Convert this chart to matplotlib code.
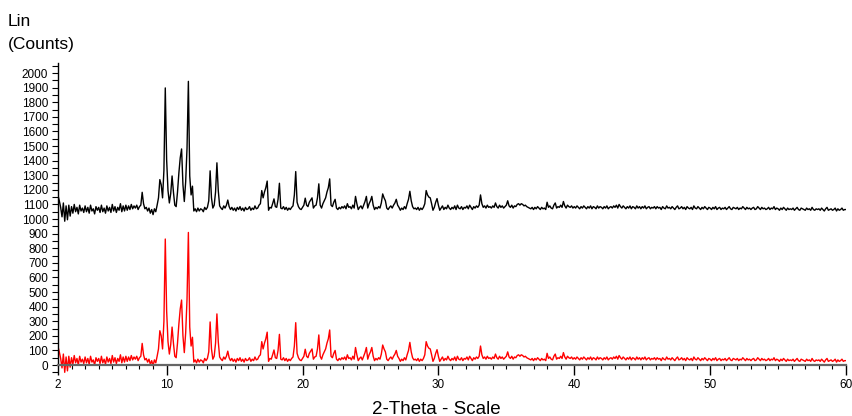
import numpy as np
import matplotlib
matplotlib.use("Agg")
from matplotlib import pyplot as plt
from matplotlib.ticker import MultipleLocator, FixedLocator

plt.rcParams['font.family'] = ['Liberation Sans', 'DejaVu Sans']

# scan: 2-Theta from 2 to 60 deg, 0.1 deg step
start_angle = 2.0
step_size = 0.1

# lower trace (red), counts, one row per degree
red_counts = [
    128, 90, 45, -20, 75, -50, 55, -40, 60, -15,      # 2
    50, 5, 65, 15, 45, 0, 60, 20, 40, 10,             # 3
    55, 15, 45, 5, 60, 20, 35, 0, 50, 25,             # 4
    45, 10, 60, 15, 40, 5, 55, 20, 45, 10,            # 5
    65, 20, 50, 10, 45, 25, 70, 15, 55, 20,           # 6
    60, 25, 55, 30, 65, 35, 55, 40, 60, 30,           # 7
    50, 60, 148, 70, 35, 45, 20, 40, 5, 30,           # 8
    -5, 35, 15, 60, 110, 235, 200, 110, 300, 863,     # 9
    370, 160, 75, 140, 260, 150, 60, 50, 150, 280,    # 10
    384, 445, 200, 85, 220, 450, 908, 260, 130, 190,  # 11
    20, 35, 15, 40, 20, 35, 30, 15, 45, 30,           # 12
    45, 90, 295, 110, 40, 60, 150, 350, 160, 55,      # 13
    40, 30, 55, 40, 60, 95, 50, 30, 45, 25,           # 14
    40, 20, 45, 30, 50, 25, 40, 20, 45, 30,           # 15
    35, 50, 25, 40, 30, 55, 35, 40, 60, 70,           # 16
    160, 110, 150, 180, 225, 25, 45, 40, 70, 103,     # 17
    50, 45, 100, 210, 40, 35, 50, 30, 45, 25,         # 18
    40, 30, 45, 55, 130, 290, 80, 50, 35, 30,         # 19
    45, 60, 108, 60, 50, 80, 95, 110, 40, 55,         # 20
    60, 110, 206, 60, 40, 70, 90, 110, 150, 180,      # 21
    240, 60, 50, 80, 100, 40, 30, 45, 35, 50,         # 22
    40, 55, 35, 70, 45, 50, 35, 60, 40, 120,          # 23
    70, 30, 45, 55, 35, 60, 85, 120, 40, 70,          # 24
    90, 120, 60, 30, 45, 35, 50, 40, 75, 137,         # 25
    110, 90, 40, 30, 45, 55, 40, 60, 75, 100,         # 26
    60, 45, 25, 40, 30, 50, 35, 70, 100, 155,         # 27
    90, 50, 35, 40, 30, 45, 25, 40, 30, 45,           # 28
    70, 160, 130, 115, 110, 70, 25, 45, 80, 105,      # 29
    60, 25, 40, 55, 30, 45, 35, 60, 40, 30,           # 30
    45, 35, 55, 30, 60, 40, 35, 50, 30, 45,           # 31
    40, 55, 35, 60, 45, 30, 50, 40, 55, 45,           # 32
    60, 130, 70, 45, 55, 40, 60, 45, 50, 40,          # 33
    55, 45, 75, 50, 40, 60, 45, 55, 40, 50,           # 34
    60, 90, 55, 45, 60, 40, 55, 50, 65, 70,           # 35
    60, 70, 65, 55, 60, 50, 45, 40, 35, 45,           # 36
    30, 45, 35, 50, 40, 30, 45, 35, 40, 30,           # 37
    80, 45, 55, 40, 35, 60, 75, 40, 50, 45,           # 38
    60, 45, 85, 55, 40, 60, 50, 45, 55, 40,           # 39
    50, 40, 55, 45, 35, 50, 40, 55, 45, 35,           # 40
    50, 40, 55, 35, 50, 45, 35, 55, 40, 50,           # 41
    45, 35, 50, 40, 55, 35, 45, 50, 40, 55,           # 42
    45, 60, 40, 65, 50, 40, 55, 45, 35, 50,           # 43
    40, 55, 35, 50, 45, 35, 55, 40, 50, 35,           # 44
    50, 40, 55, 35, 45, 50, 35, 45, 40, 50,           # 45
    35, 50, 40, 45, 30, 50, 40, 35, 55, 40,           # 46
    45, 35, 50, 40, 30, 45, 55, 35, 40, 50,           # 47
    35, 45, 30, 50, 40, 35, 45, 30, 55, 40,           # 48
    35, 50, 40, 30, 45, 35, 50, 40, 30, 45,           # 49
    40, 30, 45, 35, 50, 30, 40, 45, 30, 40,           # 50
    35, 45, 30, 40, 50, 35, 30, 45, 40, 35,           # 51
    45, 30, 40, 35, 50, 40, 30, 45, 35, 40,           # 52
    30, 40, 45, 30, 35, 50, 40, 30, 45, 35,           # 53
    40, 30, 35, 45, 30, 40, 35, 50, 30, 40,           # 54
    35, 25, 40, 30, 45, 35, 25, 40, 30, 35,           # 55
    30, 40, 25, 35, 45, 30, 25, 40, 35, 30,           # 56
    25, 40, 30, 35, 25, 45, 30, 25, 35, 30,           # 57
    35, 25, 40, 30, 20, 35, 45, 25, 30, 35,           # 58
    25, 30, 40, 20, 35, 25, 30, 40, 25, 30,           # 59
    30,                                               # 60
]

# upper trace (black) is the same scan shifted up
black_offset = 1035

x_ticks = [2, 10, 20, 30, 40, 50, 60]
x_ticklabels = ["2", "10", "20", "30", "40", "50", "60"]
y_ticks = list(range(0, 2001, 100))


def main():
    red = np.array(red_counts, dtype=float)
    two_theta = np.round(start_angle + step_size * np.arange(len(red)), 1)
    black = red + black_offset

    fig = plt.figure(figsize=(8.52, 4.16), dpi=100)
    ax = fig.add_axes([0.068, 0.098, 0.925, 0.751])

    ax.plot(two_theta, black, color='black', lw=1.0)
    ax.plot(two_theta, red, color='red', lw=1.0)

    ax.set_xlim(2, 60)
    ax.set_ylim(-70, 2070)

    ax.spines['top'].set_visible(False)
    ax.spines['right'].set_visible(False)
    ax.spines['bottom'].set_position(('data', 0))
    ax.spines['bottom'].set_color('#666666')
    ax.spines['bottom'].set_linewidth(1.6)
    ax.spines['left'].set_bounds(0, 2070)
    ax.spines['left'].set_linewidth(1.0)

    ax.xaxis.set_major_locator(FixedLocator(x_ticks))
    ax.set_xticklabels(x_ticklabels)
    ax.xaxis.set_minor_locator(MultipleLocator(1))
    ax.yaxis.set_major_locator(FixedLocator(y_ticks))
    ax.yaxis.set_minor_locator(MultipleLocator(50))

    ax.tick_params(axis='x', which='major', direction='out', length=7, width=1,
                   labelsize=8.5, pad=3, color='black')
    ax.tick_params(axis='x', which='minor', direction='out', length=3, width=0.8,
                   color='black')
    ax.tick_params(axis='y', which='major', direction='out', length=4, width=0.8,
                   labelsize=8.5, pad=3)
    ax.tick_params(axis='y', which='minor', direction='out', length=4, width=0.8)

    fig.text(0.0095, 0.938, "Lin", fontsize=12.5, va='baseline')
    fig.text(0.0095, 0.882, "(Counts)", fontsize=12.5, va='baseline')
    fig.text(0.512, 0.006, "2-Theta - Scale", fontsize=13.5, ha='center', va='baseline')

    fig.savefig("out.png", dpi=100)


if __name__ == "__main__":
    main()
